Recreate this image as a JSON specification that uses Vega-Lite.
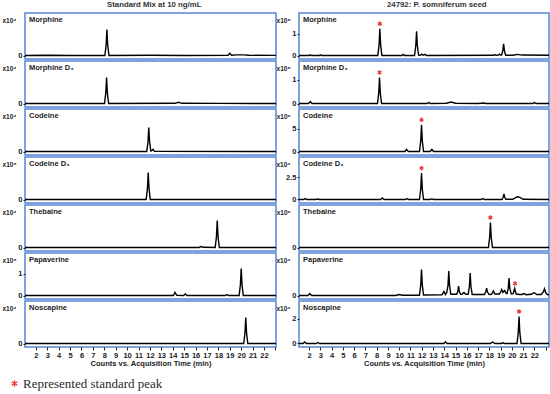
{
"$schema":"https://vega.github.io/schema/vega-lite/v6.json",
"padding":{"left":1,"top":1,"right":0,"bottom":0},
"background":"white",
"datasets":{
"chrom":[
{"p":"L1","t":1.05,"y":0},{"p":"L1","t":3.0,"y":0.03},{"p":"L1","t":5.0,"y":0},{"p":"L1","t":8.05,"y":0},{"p":"L1","t":8.16,"y":1.04},{"p":"L1","t":8.23,"y":2.6},{"p":"L1","t":8.30,"y":1.04},{"p":"L1","t":8.41,"y":0},{"p":"L1","t":12,"y":0.02},{"p":"L1","t":15,"y":0},{"p":"L1","t":18.85,"y":0.02},{"p":"L1","t":19.0,"y":0.22},{"p":"L1","t":19.15,"y":0.03},{"p":"L1","t":19.6,"y":0.06},{"p":"L1","t":20.2,"y":0.06},{"p":"L1","t":20.7,"y":0.02},{"p":"L1","t":23.05,"y":0.01},
{"p":"L2","t":1.05,"y":0},{"p":"L2","t":8.02,"y":0},{"p":"L2","t":8.13,"y":1.04},{"p":"L2","t":8.2,"y":2.6},{"p":"L2","t":8.27,"y":1.04},{"p":"L2","t":8.38,"y":0},{"p":"L2","t":14.2,"y":0.02},{"p":"L2","t":14.5,"y":0.12},{"p":"L2","t":14.8,"y":0.02},{"p":"L2","t":18,"y":0.01},{"p":"L2","t":23.05,"y":0},
{"p":"L3","t":1.05,"y":0},{"p":"L3","t":11.72,"y":0},{"p":"L3","t":11.83,"y":0.96},{"p":"L3","t":11.9,"y":2.4},{"p":"L3","t":11.97,"y":0.96},{"p":"L3","t":12.08,"y":0.05},{"p":"L3","t":12.16,"y":0.08},{"p":"L3","t":12.28,"y":0.22},{"p":"L3","t":12.4,"y":0.02},{"p":"L3","t":23.05,"y":0},
{"p":"L4","t":1.05,"y":0},{"p":"L4","t":11.67,"y":0},{"p":"L4","t":11.78,"y":1.08},{"p":"L4","t":11.85,"y":2.7},{"p":"L4","t":11.92,"y":1.08},{"p":"L4","t":12.03,"y":0},{"p":"L4","t":23.05,"y":0},
{"p":"L5","t":1.05,"y":0},{"p":"L5","t":16.3,"y":0},{"p":"L5","t":16.5,"y":0.1},{"p":"L5","t":16.7,"y":0.02},{"p":"L5","t":17.72,"y":0},{"p":"L5","t":17.83,"y":1.08},{"p":"L5","t":17.9,"y":2.7},{"p":"L5","t":17.97,"y":1.08},{"p":"L5","t":18.08,"y":0},{"p":"L5","t":23.05,"y":0},
{"p":"L6","t":1.05,"y":0},{"p":"L6","t":14.05,"y":0},{"p":"L6","t":14.2,"y":0.14},{"p":"L6","t":14.35,"y":0.01},{"p":"L6","t":14.95,"y":0},{"p":"L6","t":15.1,"y":0.07},{"p":"L6","t":15.25,"y":0},{"p":"L6","t":18.6,"y":0},{"p":"L6","t":18.75,"y":0.04},{"p":"L6","t":18.9,"y":0},{"p":"L6","t":19.82,"y":0},{"p":"L6","t":19.93,"y":0.5},{"p":"L6","t":20.0,"y":1.24},{"p":"L6","t":20.07,"y":0.5},{"p":"L6","t":20.18,"y":0},{"p":"L6","t":23.05,"y":0},
{"p":"L7","t":1.05,"y":0},{"p":"L7","t":20.22,"y":0},{"p":"L7","t":20.33,"y":1.04},{"p":"L7","t":20.4,"y":2.6},{"p":"L7","t":20.47,"y":1.04},{"p":"L7","t":20.58,"y":0},{"p":"L7","t":23.05,"y":0},
{"p":"R1","t":1.1,"y":0},{"p":"R1","t":2.0,"y":0},{"p":"R1","t":2.1,"y":0.03},{"p":"R1","t":2.2,"y":0},{"p":"R1","t":2.9,"y":0},{"p":"R1","t":3.0,"y":0.03},{"p":"R1","t":3.1,"y":0},{"p":"R1","t":8.1,"y":0},{"p":"R1","t":8.21,"y":0.49},{"p":"R1","t":8.28,"y":1.23},{"p":"R1","t":8.35,"y":0.49},{"p":"R1","t":8.46,"y":0},{"p":"R1","t":10.25,"y":0},{"p":"R1","t":10.36,"y":0.05},{"p":"R1","t":10.47,"y":0},{"p":"R1","t":11.36,"y":0},{"p":"R1","t":11.47,"y":0.45},{"p":"R1","t":11.54,"y":1.12},{"p":"R1","t":11.61,"y":0.45},{"p":"R1","t":11.72,"y":0.02},{"p":"R1","t":11.85,"y":0.01},{"p":"R1","t":12.0,"y":0.06},{"p":"R1","t":12.12,"y":0.01},{"p":"R1","t":12.3,"y":0.05},{"p":"R1","t":12.42,"y":0},{"p":"R1","t":18.4,"y":0.01},{"p":"R1","t":18.5,"y":0.04},{"p":"R1","t":18.6,"y":0.01},{"p":"R1","t":18.8,"y":0.02},{"p":"R1","t":18.9,"y":0.06},{"p":"R1","t":19.0,"y":0.02},{"p":"R1","t":19.09,"y":0.02},{"p":"R1","t":19.2,"y":0.22},{"p":"R1","t":19.27,"y":0.54},{"p":"R1","t":19.34,"y":0.22},{"p":"R1","t":19.45,"y":0.01},{"p":"R1","t":20.1,"y":0.01},{"p":"R1","t":20.5,"y":0.05},{"p":"R1","t":20.9,"y":0.02},{"p":"R1","t":23.3,"y":0.01},
{"p":"R2","t":1.1,"y":0},{"p":"R2","t":1.95,"y":0},{"p":"R2","t":2.1,"y":0.08},{"p":"R2","t":2.25,"y":0},{"p":"R2","t":8.07,"y":0},{"p":"R2","t":8.18,"y":0.44},{"p":"R2","t":8.25,"y":1.1},{"p":"R2","t":8.32,"y":0.44},{"p":"R2","t":8.43,"y":0},{"p":"R2","t":12.45,"y":0},{"p":"R2","t":12.6,"y":0.04},{"p":"R2","t":12.75,"y":0},{"p":"R2","t":14.2,"y":0.01},{"p":"R2","t":14.6,"y":0.06},{"p":"R2","t":15.0,"y":0.01},{"p":"R2","t":17.0,"y":0},{"p":"R2","t":17.5,"y":0.02},{"p":"R2","t":17.7,"y":0},{"p":"R2","t":21.85,"y":0},{"p":"R2","t":22.0,"y":0.04},{"p":"R2","t":22.15,"y":0},{"p":"R2","t":23.3,"y":0},
{"p":"R3","t":1.1,"y":0},{"p":"R3","t":10.5,"y":0},{"p":"R3","t":10.65,"y":0.45},{"p":"R3","t":10.8,"y":0},{"p":"R3","t":11.8,"y":0},{"p":"R3","t":11.91,"y":2.36},{"p":"R3","t":11.98,"y":5.9},{"p":"R3","t":12.05,"y":2.36},{"p":"R3","t":12.16,"y":0},{"p":"R3","t":12.75,"y":0},{"p":"R3","t":12.9,"y":0.45},{"p":"R3","t":13.05,"y":0},{"p":"R3","t":23.3,"y":0},
{"p":"R4","t":1.1,"y":0},{"p":"R4","t":1.5,"y":0},{"p":"R4","t":1.65,"y":0.1},{"p":"R4","t":1.8,"y":0},{"p":"R4","t":2.6,"y":0},{"p":"R4","t":2.75,"y":0.05},{"p":"R4","t":2.9,"y":0},{"p":"R4","t":8.35,"y":0},{"p":"R4","t":8.5,"y":0.17},{"p":"R4","t":8.65,"y":0},{"p":"R4","t":10.55,"y":0},{"p":"R4","t":10.7,"y":0.1},{"p":"R4","t":10.85,"y":0},{"p":"R4","t":11.8,"y":0},{"p":"R4","t":11.91,"y":1.18},{"p":"R4","t":11.98,"y":2.95},{"p":"R4","t":12.05,"y":1.18},{"p":"R4","t":12.16,"y":0},{"p":"R4","t":12.75,"y":0},{"p":"R4","t":12.9,"y":0.07},{"p":"R4","t":13.05,"y":0},{"p":"R4","t":17.25,"y":0},{"p":"R4","t":17.4,"y":0.1},{"p":"R4","t":17.55,"y":0},{"p":"R4","t":19.12,"y":0},{"p":"R4","t":19.23,"y":0.25},{"p":"R4","t":19.3,"y":0.63},{"p":"R4","t":19.37,"y":0.25},{"p":"R4","t":19.48,"y":0.02},{"p":"R4","t":20.1,"y":0.02},{"p":"R4","t":20.4,"y":0.25},{"p":"R4","t":20.55,"y":0.3},{"p":"R4","t":20.75,"y":0.2},{"p":"R4","t":21.0,"y":0.02},{"p":"R4","t":23.3,"y":0},
{"p":"R5","t":1.1,"y":0},{"p":"R5","t":17.92,"y":0},{"p":"R5","t":18.03,"y":1.0},{"p":"R5","t":18.1,"y":2.5},{"p":"R5","t":18.17,"y":1.0},{"p":"R5","t":18.28,"y":0},{"p":"R5","t":23.3,"y":0},
{"p":"R6","t":1.1,"y":0},{"p":"R6","t":1.9,"y":0},{"p":"R6","t":2.06,"y":0.2},{"p":"R6","t":2.22,"y":0},{"p":"R6","t":9.7,"y":0},{"p":"R6","t":9.97,"y":0.1},{"p":"R6","t":10.3,"y":0.03},{"p":"R6","t":11.8,"y":0.02},{"p":"R6","t":11.91,"y":1.04},{"p":"R6","t":11.98,"y":2.6},{"p":"R6","t":12.05,"y":1.04},{"p":"R6","t":12.16,"y":0.05},{"p":"R6","t":13.8,"y":0.08},{"p":"R6","t":13.97,"y":0.4},{"p":"R6","t":14.1,"y":0.1},{"p":"R6","t":14.22,"y":0.3},{"p":"R6","t":14.33,"y":0.98},{"p":"R6","t":14.4,"y":2.44},{"p":"R6","t":14.47,"y":0.98},{"p":"R6","t":14.58,"y":0.12},{"p":"R6","t":15.1,"y":0.12},{"p":"R6","t":15.2,"y":0.4},{"p":"R6","t":15.27,"y":0.94},{"p":"R6","t":15.34,"y":0.4},{"p":"R6","t":15.45,"y":0.12},{"p":"R6","t":15.6,"y":0.15},{"p":"R6","t":15.75,"y":0.3},{"p":"R6","t":15.9,"y":0.12},{"p":"R6","t":16.12,"y":0.12},{"p":"R6","t":16.23,"y":0.9},{"p":"R6","t":16.3,"y":2.24},{"p":"R6","t":16.37,"y":0.9},{"p":"R6","t":16.48,"y":0.1},{"p":"R6","t":17.55,"y":0.1},{"p":"R6","t":17.68,"y":0.35},{"p":"R6","t":17.76,"y":0.74},{"p":"R6","t":17.84,"y":0.35},{"p":"R6","t":17.98,"y":0.1},{"p":"R6","t":18.2,"y":0.12},{"p":"R6","t":18.36,"y":0.45},{"p":"R6","t":18.5,"y":0.15},{"p":"R6","t":18.9,"y":0.15},{"p":"R6","t":19.0,"y":0.35},{"p":"R6","t":19.1,"y":0.6},{"p":"R6","t":19.2,"y":0.3},{"p":"R6","t":19.36,"y":0.5},{"p":"R6","t":19.5,"y":0.2},{"p":"R6","t":19.58,"y":0.2},{"p":"R6","t":19.68,"y":0.7},{"p":"R6","t":19.75,"y":1.74},{"p":"R6","t":19.82,"y":0.7},{"p":"R6","t":19.95,"y":0.15},{"p":"R6","t":20.12,"y":0.18},{"p":"R6","t":20.25,"y":0.7},{"p":"R6","t":20.38,"y":0.15},{"p":"R6","t":20.7,"y":0.1},{"p":"R6","t":20.9,"y":0.1},{"p":"R6","t":21.08,"y":0.2},{"p":"R6","t":21.25,"y":0.08},{"p":"R6","t":21.75,"y":0.12},{"p":"R6","t":21.97,"y":0.3},{"p":"R6","t":22.2,"y":0.1},{"p":"R6","t":22.6,"y":0.1},{"p":"R6","t":22.8,"y":0.35},{"p":"R6","t":22.9,"y":0.67},{"p":"R6","t":23.0,"y":0.3},{"p":"R6","t":23.15,"y":0.1},{"p":"R6","t":23.3,"y":0.08},
{"p":"R7","t":1.1,"y":0},{"p":"R7","t":1.45,"y":0},{"p":"R7","t":1.6,"y":0.12},{"p":"R7","t":1.75,"y":0},{"p":"R7","t":2.62,"y":0},{"p":"R7","t":2.77,"y":0.08},{"p":"R7","t":2.92,"y":0},{"p":"R7","t":13.95,"y":0},{"p":"R7","t":14.1,"y":0.12},{"p":"R7","t":14.25,"y":0},{"p":"R7","t":18.1,"y":0},{"p":"R7","t":18.3,"y":0.12},{"p":"R7","t":18.5,"y":0},{"p":"R7","t":19.05,"y":0},{"p":"R7","t":19.2,"y":0.06},{"p":"R7","t":19.35,"y":0},{"p":"R7","t":20.46,"y":0},{"p":"R7","t":20.57,"y":0.88},{"p":"R7","t":20.64,"y":2.2},{"p":"R7","t":20.71,"y":0.88},{"p":"R7","t":20.82,"y":0},{"p":"R7","t":23.3,"y":0}
],
"stars":[
{"p":"R1","t":8.28,"y":1.23,"k":"Represented standard peak"},
{"p":"R2","t":8.25,"y":1.1,"k":"Represented standard peak"},
{"p":"R3","t":11.98,"y":5.9,"k":"Represented standard peak"},
{"p":"R4","t":11.98,"y":2.95,"k":"Represented standard peak"},
{"p":"R5","t":18.1,"y":2.5,"k":"Represented standard peak"},
{"p":"R6","t":20.28,"y":0.7,"k":"Represented standard peak"},
{"p":"R7","t":20.64,"y":2.2,"k":"Represented standard peak"}
]
},
"hconcat":[
{"title":{"text":"Standard Mix at 10 ng/mL","anchor":"start","frame":"group","offset":3,"dx":82,"fontSize":7.8,"fontWeight":"bold","color":"#333"},
 "spacing":0,
 "vconcat":[
 {"width":251,"height":46,"title":{"text":"Morphine"},
  "encoding":{"x":{"field":"t","type":"quantitative","scale":{"domain":[1.05,23.05],"nice":false,"zero":false},"axis":null},
   "y":{"field":"y","type":"quantitative","scale":{"domain":[-0.35,4.25],"nice":false,"zero":false},"axis":{"values":[0],"title":"x10⁴"}}},
  "layer":[{"data":{"name":"chrom"},"transform":[{"filter":"datum.p=='L1'"}],"mark":{"type":"line","color":"#000","strokeWidth":1.4,"clip":true}},
   {"mark":{"type":"rule","color":"#111","strokeWidth":1.2},"encoding":{"x":{"datum":1.05},"y":{"datum":0},"y2":{"datum":2.9}}}]},
 {"width":251,"height":46,"title":{"text":"Morphine D₃"},
  "encoding":{"x":{"field":"t","type":"quantitative","scale":{"domain":[1.05,23.05],"nice":false,"zero":false},"axis":null},
   "y":{"field":"y","type":"quantitative","scale":{"domain":[-0.35,4.25],"nice":false,"zero":false},"axis":{"values":[0],"title":"x10⁴"}}},
  "layer":[{"data":{"name":"chrom"},"transform":[{"filter":"datum.p=='L2'"}],"mark":{"type":"line","color":"#000","strokeWidth":1.4,"clip":true}},
   {"mark":{"type":"rule","color":"#111","strokeWidth":1.2},"encoding":{"x":{"datum":1.05},"y":{"datum":0},"y2":{"datum":2.9}}}]},
 {"width":251,"height":46,"title":{"text":"Codeine"},
  "encoding":{"x":{"field":"t","type":"quantitative","scale":{"domain":[1.05,23.05],"nice":false,"zero":false},"axis":null},
   "y":{"field":"y","type":"quantitative","scale":{"domain":[-0.35,4.25],"nice":false,"zero":false},"axis":{"values":[0],"title":"x10⁴"}}},
  "layer":[{"data":{"name":"chrom"},"transform":[{"filter":"datum.p=='L3'"}],"mark":{"type":"line","color":"#000","strokeWidth":1.4,"clip":true}},
   {"mark":{"type":"rule","color":"#111","strokeWidth":1.2},"encoding":{"x":{"datum":1.05},"y":{"datum":0},"y2":{"datum":2.9}}}]},
 {"width":251,"height":46,"title":{"text":"Codeine D₃"},
  "encoding":{"x":{"field":"t","type":"quantitative","scale":{"domain":[1.05,23.05],"nice":false,"zero":false},"axis":null},
   "y":{"field":"y","type":"quantitative","scale":{"domain":[-0.35,4.25],"nice":false,"zero":false},"axis":{"values":[0],"title":"x10⁵"}}},
  "layer":[{"data":{"name":"chrom"},"transform":[{"filter":"datum.p=='L4'"}],"mark":{"type":"line","color":"#000","strokeWidth":1.4,"clip":true}},
   {"mark":{"type":"rule","color":"#111","strokeWidth":1.2},"encoding":{"x":{"datum":1.05},"y":{"datum":0},"y2":{"datum":2.9}}}]},
 {"width":251,"height":46,"title":{"text":"Thebaine"},
  "encoding":{"x":{"field":"t","type":"quantitative","scale":{"domain":[1.05,23.05],"nice":false,"zero":false},"axis":null},
   "y":{"field":"y","type":"quantitative","scale":{"domain":[-0.35,4.25],"nice":false,"zero":false},"axis":{"values":[0],"title":"x10⁴"}}},
  "layer":[{"data":{"name":"chrom"},"transform":[{"filter":"datum.p=='L5'"}],"mark":{"type":"line","color":"#000","strokeWidth":1.4,"clip":true}},
   {"mark":{"type":"rule","color":"#111","strokeWidth":1.2},"encoding":{"x":{"datum":1.05},"y":{"datum":0},"y2":{"datum":2.9}}}]},
 {"width":251,"height":46,"title":{"text":"Papaverine"},
  "encoding":{"x":{"field":"t","type":"quantitative","scale":{"domain":[1.05,23.05],"nice":false,"zero":false},"axis":null},
   "y":{"field":"y","type":"quantitative","scale":{"domain":[-0.161,1.958],"nice":false,"zero":false},"axis":{"values":[0,1],"labelExpr":"datum.value == 1 ? '1' : '0'","title":"x10⁵"}}},
  "layer":[{"data":{"name":"chrom"},"transform":[{"filter":"datum.p=='L6'"}],"mark":{"type":"line","color":"#000","strokeWidth":1.4,"clip":true}},
   {"mark":{"type":"rule","color":"#111","strokeWidth":1.2},"encoding":{"x":{"datum":1.05},"y":{"datum":0},"y2":{"datum":1.33}}}]},
 {"width":251,"height":46,"title":{"text":"Noscapine"},
  "encoding":{"x":{"field":"t","type":"quantitative","scale":{"domain":[1.05,23.05],"nice":false,"zero":false},"axis":{"values":[2,3,4,5,6,7,8,9,10,11,12,13,14,15,16,17,18,19,20,21,22,23],"labelExpr":"datum.value == 23 ? '' : datum.label","title":"Counts vs. Acquisition Time (min)"}},
   "y":{"field":"y","type":"quantitative","scale":{"domain":[-0.35,4.25],"nice":false,"zero":false},"axis":{"values":[0],"title":"x10⁴"}}},
  "layer":[{"data":{"name":"chrom"},"transform":[{"filter":"datum.p=='L7'"}],"mark":{"type":"line","color":"#000","strokeWidth":1.4,"clip":true}},
   {"mark":{"type":"rule","color":"#111","strokeWidth":1.2},"encoding":{"x":{"datum":1.05},"y":{"datum":0},"y2":{"datum":2.9}}}]}
 ]},
{"title":{"text":"24792: P. somniferum seed","anchor":"start","frame":"group","offset":3,"dx":88,"fontSize":7.8,"fontWeight":"bold","color":"#333"},
 "spacing":0,
 "resolve":{"scale":{"color":"shared"},"legend":{"color":"shared"}},
 "vconcat":[
 {"width":250,"height":46,"title":{"text":"Morphine"},
  "encoding":{"x":{"field":"t","type":"quantitative","scale":{"domain":[1.1,23.3],"nice":false,"zero":false},"axis":null},
   "y":{"field":"y","type":"quantitative","scale":{"domain":[-0.161,1.958],"nice":false,"zero":false},"axis":{"values":[0,1],"labelExpr":"datum.value == 1 ? '1' : '0'","title":"x10⁵"}}},
  "layer":[
   {"data":{"name":"chrom"},"transform":[{"filter":"datum.p=='R1'"}],"mark":{"type":"line","color":"#000","strokeWidth":1.4,"clip":true}},
   {"mark":{"type":"rule","color":"#111","strokeWidth":1.2},"encoding":{"x":{"datum":1.1},"y":{"datum":0},"y2":{"datum":1.33}}},
   {"data":{"name":"stars"},"transform":[{"filter":"datum.p=='R1'"}],"mark":{"type":"point","shape":"M0,-1L0,1M-0.866,-0.5L0.866,0.5M-0.866,0.5L0.866,-0.5","filled":false,"strokeWidth":1.3,"size":20,"yOffset":-5,"opacity":1},
    "encoding":{"color":{"field":"k","type":"nominal","scale":{"range":["#ee3b3b"]},"legend":{"title":null,"orient":"none","legendX":-17,"legendY":364,"symbolType":"M0,-1L0,1M-0.866,-0.5L0.866,0.5M-0.866,0.5L0.866,-0.5","symbolStrokeWidth":1.3,"symbolSize":40,"labelFont":"Liberation Serif","labelFontSize":13,"labelColor":"#2a2a2a","labelOffset":2,"padding":0}}}}
  ]},
 {"width":250,"height":46,"title":{"text":"Morphine D₃"},
  "encoding":{"x":{"field":"t","type":"quantitative","scale":{"domain":[1.1,23.3],"nice":false,"zero":false},"axis":null},
   "y":{"field":"y","type":"quantitative","scale":{"domain":[-0.148,1.801],"nice":false,"zero":false},"axis":{"values":[0,1],"labelExpr":"datum.value == 1 ? '1' : '0'","title":"x10⁵"}}},
  "layer":[
   {"data":{"name":"chrom"},"transform":[{"filter":"datum.p=='R2'"}],"mark":{"type":"line","color":"#000","strokeWidth":1.4,"clip":true}},
   {"mark":{"type":"rule","color":"#111","strokeWidth":1.2},"encoding":{"x":{"datum":1.1},"y":{"datum":0},"y2":{"datum":1.22}}},
   {"data":{"name":"stars"},"transform":[{"filter":"datum.p=='R2'"}],"mark":{"type":"point","shape":"M0,-1L0,1M-0.866,-0.5L0.866,0.5M-0.866,0.5L0.866,-0.5","filled":false,"strokeWidth":1.3,"size":20,"yOffset":-5,"opacity":1},
    "encoding":{"color":{"field":"k","type":"nominal","scale":{"range":["#ee3b3b"]}}}}
  ]},
 {"width":250,"height":46,"title":{"text":"Codeine"},
  "encoding":{"x":{"field":"t","type":"quantitative","scale":{"domain":[1.1,23.3],"nice":false,"zero":false},"axis":null},
   "y":{"field":"y","type":"quantitative","scale":{"domain":[-0.774,9.403],"nice":false,"zero":false},"axis":{"values":[0,5],"labelExpr":"datum.value == 5 ? '5' : '0'","title":"x10⁶"}}},
  "layer":[
   {"data":{"name":"chrom"},"transform":[{"filter":"datum.p=='R3'"}],"mark":{"type":"line","color":"#000","strokeWidth":1.4,"clip":true}},
   {"mark":{"type":"rule","color":"#111","strokeWidth":1.2},"encoding":{"x":{"datum":1.1},"y":{"datum":0},"y2":{"datum":6.4}}},
   {"data":{"name":"stars"},"transform":[{"filter":"datum.p=='R3'"}],"mark":{"type":"point","shape":"M0,-1L0,1M-0.866,-0.5L0.866,0.5M-0.866,0.5L0.866,-0.5","filled":false,"strokeWidth":1.3,"size":20,"yOffset":-5,"opacity":1},
    "encoding":{"color":{"field":"k","type":"nominal","scale":{"range":["#ee3b3b"]}}}}
  ]},
 {"width":250,"height":46,"title":{"text":"Codeine D₃"},
  "encoding":{"x":{"field":"t","type":"quantitative","scale":{"domain":[1.1,23.3],"nice":false,"zero":false},"axis":null},
   "y":{"field":"y","type":"quantitative","scale":{"domain":[-0.392,4.759],"nice":false,"zero":false},"axis":{"values":[0,2.5],"labelExpr":"datum.value > 1 ? '2.5' : '0'","title":"x10⁴"}}},
  "layer":[
   {"data":{"name":"chrom"},"transform":[{"filter":"datum.p=='R4'"}],"mark":{"type":"line","color":"#000","strokeWidth":1.4,"clip":true}},
   {"mark":{"type":"rule","color":"#111","strokeWidth":1.2},"encoding":{"x":{"datum":1.1},"y":{"datum":0},"y2":{"datum":3.2}}},
   {"data":{"name":"stars"},"transform":[{"filter":"datum.p=='R4'"}],"mark":{"type":"point","shape":"M0,-1L0,1M-0.866,-0.5L0.866,0.5M-0.866,0.5L0.866,-0.5","filled":false,"strokeWidth":1.3,"size":20,"yOffset":-5,"opacity":1},
    "encoding":{"color":{"field":"k","type":"nominal","scale":{"range":["#ee3b3b"]}}}}
  ]},
 {"width":250,"height":46,"title":{"text":"Thebaine"},
  "encoding":{"x":{"field":"t","type":"quantitative","scale":{"domain":[1.1,23.3],"nice":false,"zero":false},"axis":null},
   "y":{"field":"y","type":"quantitative","scale":{"domain":[-0.35,4.25],"nice":false,"zero":false},"axis":{"values":[0],"title":"x10⁶"}}},
  "layer":[
   {"data":{"name":"chrom"},"transform":[{"filter":"datum.p=='R5'"}],"mark":{"type":"line","color":"#000","strokeWidth":1.4,"clip":true}},
   {"mark":{"type":"rule","color":"#111","strokeWidth":1.2},"encoding":{"x":{"datum":1.1},"y":{"datum":0},"y2":{"datum":2.9}}},
   {"data":{"name":"stars"},"transform":[{"filter":"datum.p=='R5'"}],"mark":{"type":"point","shape":"M0,-1L0,1M-0.866,-0.5L0.866,0.5M-0.866,0.5L0.866,-0.5","filled":false,"strokeWidth":1.3,"size":20,"yOffset":-5,"opacity":1},
    "encoding":{"color":{"field":"k","type":"nominal","scale":{"range":["#ee3b3b"]}}}}
  ]},
 {"width":250,"height":46,"title":{"text":"Papaverine"},
  "encoding":{"x":{"field":"t","type":"quantitative","scale":{"domain":[1.1,23.3],"nice":false,"zero":false},"axis":null},
   "y":{"field":"y","type":"quantitative","scale":{"domain":[-0.35,4.25],"nice":false,"zero":false},"axis":{"values":[0],"title":"x10⁴"}}},
  "layer":[
   {"data":{"name":"chrom"},"transform":[{"filter":"datum.p=='R6'"}],"mark":{"type":"line","color":"#000","strokeWidth":1.4,"clip":true}},
   {"mark":{"type":"rule","color":"#111","strokeWidth":1.2},"encoding":{"x":{"datum":1.1},"y":{"datum":0},"y2":{"datum":2.9}}},
   {"data":{"name":"stars"},"transform":[{"filter":"datum.p=='R6'"}],"mark":{"type":"point","shape":"M0,-1L0,1M-0.866,-0.5L0.866,0.5M-0.866,0.5L0.866,-0.5","filled":false,"strokeWidth":1.3,"size":20,"yOffset":-5,"opacity":1},
    "encoding":{"color":{"field":"k","type":"nominal","scale":{"range":["#ee3b3b"]}}}}
  ]},
 {"width":250,"height":46,"title":{"text":"Noscapine"},
  "encoding":{"x":{"field":"t","type":"quantitative","scale":{"domain":[1.1,23.3],"nice":false,"zero":false},"axis":{"values":[2,3,4,5,6,7,8,9,10,11,12,13,14,15,16,17,18,19,20,21,22,23],"labelExpr":"datum.value == 23 ? '' : datum.label","title":"Counts vs. Acquisition Time (min)"}},
   "y":{"field":"y","type":"quantitative","scale":{"domain":[-0.285,3.455],"nice":false,"zero":false},"axis":{"values":[0,2],"labelExpr":"datum.value == 2 ? '2' : '0'","title":"x10⁴"}}},
  "layer":[
   {"data":{"name":"chrom"},"transform":[{"filter":"datum.p=='R7'"}],"mark":{"type":"line","color":"#000","strokeWidth":1.4,"clip":true}},
   {"mark":{"type":"rule","color":"#111","strokeWidth":1.2},"encoding":{"x":{"datum":1.1},"y":{"datum":0},"y2":{"datum":2.35}}},
   {"data":{"name":"stars"},"transform":[{"filter":"datum.p=='R7'"}],"mark":{"type":"point","shape":"M0,-1L0,1M-0.866,-0.5L0.866,0.5M-0.866,0.5L0.866,-0.5","filled":false,"strokeWidth":1.3,"size":20,"yOffset":-5,"opacity":1},
    "encoding":{"color":{"field":"k","type":"nominal","scale":{"range":["#ee3b3b"]}}}}
  ]}
 ]}
],
"spacing":-2,
"resolve":{"scale":{"color":"shared"},"legend":{"color":"shared"}},
"config":{
 "font":"Liberation Sans, DejaVu Sans",
 "view":{"stroke":"#5585d6","strokeWidth":1.5},
 "title":{"anchor":"start","frame":"group","offset":-10,"dx":4,"fontSize":7.5,"fontWeight":"bold","font":"Liberation Sans, DejaVu Sans","color":"#222"},
 "axis":{"grid":false,"domain":false,"labelFont":"Liberation Sans, DejaVu Sans","labelFontSize":7.5,"labelFontWeight":"bold","labelColor":"#222","tickColor":"#222","titleFont":"Liberation Sans, DejaVu Sans","titleFontSize":7.5,"titleFontWeight":"bold","titleColor":"#222"},
 "axisY":{"tickSize":2,"labelPadding":1,"titleAngle":0,"titleAlign":"right","titleBaseline":"middle","titleX":-9,"titleY":7,"titleFontSize":6.5},
 "axisX":{"tickSize":3,"labelPadding":1,"titlePadding":1,"labelOverlap":false,"labelFlush":false}
}
}
